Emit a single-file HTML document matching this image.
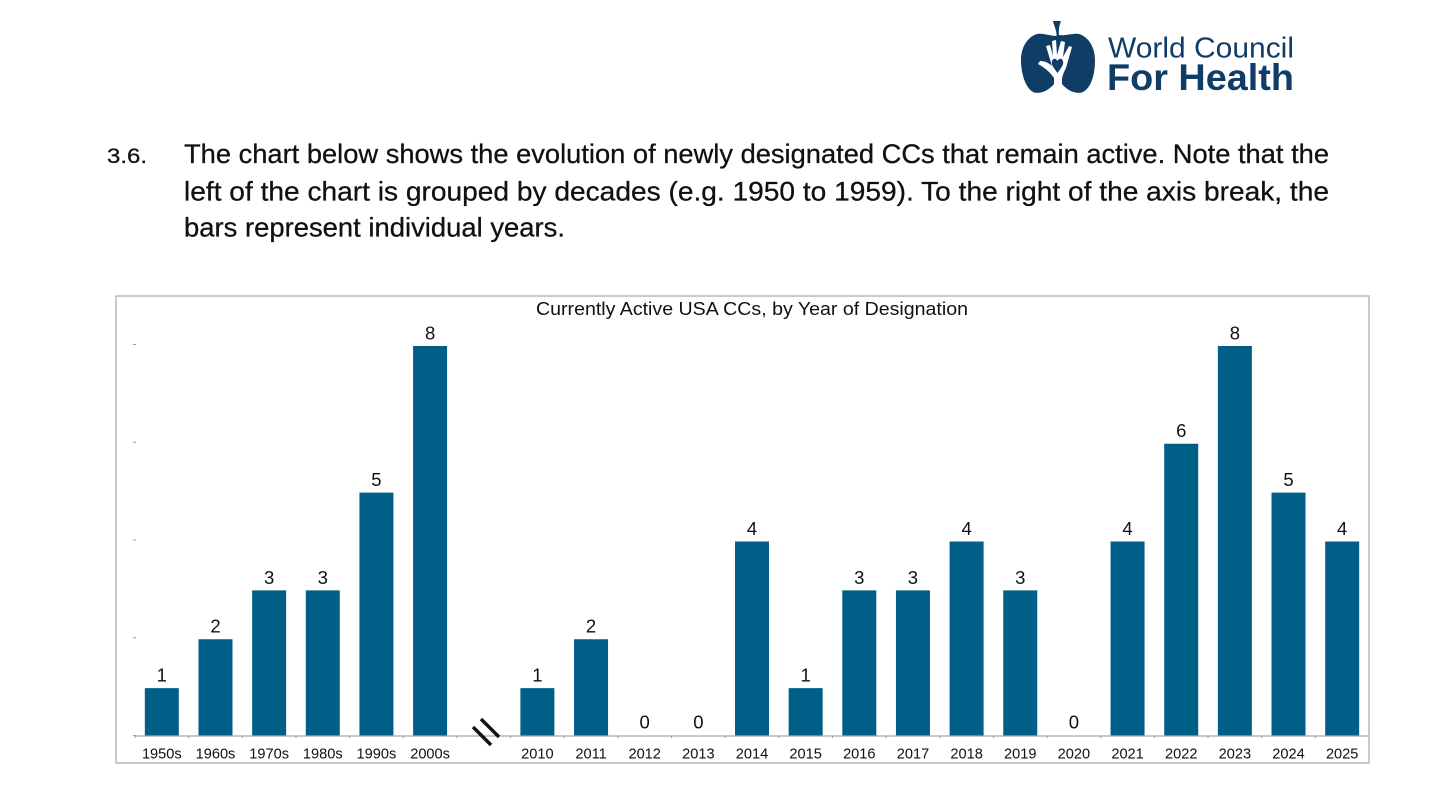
<!DOCTYPE html>
<html lang="en">
<head>
<meta charset="utf-8">
<title>Currently Active USA CCs</title>
<style>
html,body{margin:0;padding:0;background:#fff;width:1456px;height:808px;overflow:hidden}
svg{display:block}
text{font-family:"Liberation Sans",sans-serif;fill:#111}
</style>
</head>
<body>
<svg id="page" xmlns="http://www.w3.org/2000/svg" width="1456" height="808" viewBox="0 0 1456 808">
  <g>
    <path fill="#103d66" d="M1056.5 36 C1057 31 1054 26 1053 21 L1061 21 C1059 26 1058.5 31 1059 35 C1066 36 1072 33 1079 34 C1089 37 1095 48 1095 60 C1095 73 1092 88 1082 92.5 C1074 94 1067 90 1062 84 L1054 84 C1049 90 1042 94 1034 92.5 C1025 88 1021 73 1021 60 C1021 48 1027 37 1037 34 C1044 33 1050 36 1056.5 36 Z"/>
    <path fill="#fff" d="M1054 93 L1054 78 C1050 72 1045 68 1038 64 L1040 61 C1045 61 1049 63 1052 66 L1046 46 L1050 45 L1053 56 L1052 41 L1056 40 L1057 55 L1061 41 L1065 42 L1063 57 L1069 46 L1072 47 L1066 68 C1064 72 1062 76 1062 80 L1062 93 Z"/>
    <path fill="#103d66" d="M1057.5 73 C1054 68 1051 65 1052 61 C1053 58 1056 58 1057.5 61 C1059 58 1062 58 1063 61 C1064 65 1061 68 1057.5 73 Z"/>
    <text x="1108" y="57.5" font-size="29" textLength="186" lengthAdjust="spacingAndGlyphs" style="fill:#103d66">World Council</text>
    <text x="1107" y="90" font-size="37" font-weight="700" textLength="187" lengthAdjust="spacingAndGlyphs" style="fill:#103d66">For Health</text>
  </g>
  <g font-size="26.5" style="stroke:#000;stroke-width:0.25">
    <text x="107" y="163" font-size="21" textLength="40" lengthAdjust="spacingAndGlyphs">3.6.</text>
    <text x="184" y="163" textLength="1145" lengthAdjust="spacingAndGlyphs">The chart below shows the evolution of newly designated CCs that remain active. Note that the</text>
    <text x="184" y="200.7" textLength="1145" lengthAdjust="spacingAndGlyphs">left of the chart is grouped by decades (e.g. 1950 to 1959). To the right of the axis break, the</text>
    <text x="184" y="236.7" textLength="381" lengthAdjust="spacingAndGlyphs">bars represent individual years.</text>
  </g>
  <rect x="116" y="296" width="1253" height="467" fill="#fff" stroke="#b4b4b4" stroke-width="1.4"/>
  <text x="752" y="315" font-size="18" text-anchor="middle" textLength="432" lengthAdjust="spacingAndGlyphs">Currently Active USA CCs, by Year of Designation</text>
  <g id="chart"></g>
  <g stroke="#111" stroke-width="3.4">
    <line x1="473" y1="727" x2="491" y2="745"/>
    <line x1="481" y1="719" x2="499" y2="737"/>
  </g>
</svg>
<script>
const categories = ["1950s","1960s","1970s","1980s","1990s","2000s","","2010","2011","2012","2013","2014","2015","2016","2017","2018","2019","2020","2021","2022","2023","2024","2025"];
const values = [1,2,3,3,5,8,null,1,2,0,0,4,1,3,3,4,3,0,4,6,8,5,4];
const yTickValues = [0,2,4,6,8];

const NS = "http://www.w3.org/2000/svg";
const chart = document.getElementById("chart");
const plot = {left:135, right:1369, base:737, axisY:736, top:346, max:8};
const slot = (plot.right - plot.left) / categories.length;
const xCenter = i => plot.left + slot * (i + 0.5);
const yScale = v => plot.base - (v / plot.max) * (plot.base - plot.top);

function make(tag, attrs, text) {
  const el = document.createElementNS(NS, tag);
  for (const k in attrs) el.setAttribute(k, attrs[k]);
  if (text !== undefined) el.textContent = text;
  chart.appendChild(el);
  return el;
}

yTickValues.forEach(v => {
  const ty = yScale(v) - 1.5;
  const t = make("line", {x1:plot.left - 2, x2:plot.left + 1, y1:ty, y2:ty, stroke:"#999", "stroke-width":1});
  
  
});

values.forEach((v, i) => {
  if (v === null) return;
  const w = 34;
  const y = yScale(v);
  if (v > 0) {
    const b = make("rect", {x:xCenter(i) - w / 2, y:y, width:w, height:plot.axisY - y, fill:"#005f87"});
    
    
  }
  const l = make("text", {x:xCenter(i), y:Math.min(y, plot.axisY - 1) - 6.6, "font-size":18.5, "text-anchor":"middle"}, String(v));
  
  
});

const axis = make("line", {x1:plot.left, x2:plot.right, y1:plot.axisY, y2:plot.axisY, stroke:"#a8a8a8", "stroke-width":1.3});



categories.forEach((c, i) => {
  const t = make("line", {x1:plot.left + slot * i, x2:plot.left + slot * i, y1:plot.axisY, y2:plot.axisY + 2, stroke:"#999", "stroke-width":1});
  
  
  if (c) {
    const l = make("text", {x:xCenter(i), y:758.5, "font-size":14.6, "text-anchor":"middle"}, c);
    
    
  }
});
</script>
</body>
</html>
